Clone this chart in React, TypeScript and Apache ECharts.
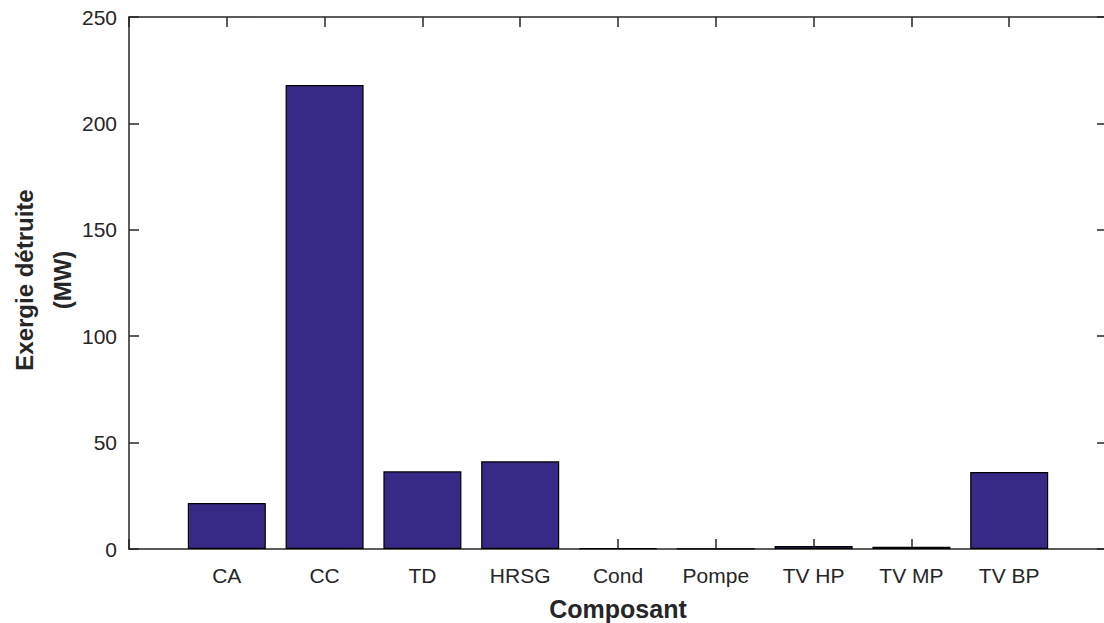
import React, { useEffect, useRef } from "react";
import * as echarts from "echarts";

const categories = ["CA", "CC", "TD", "HRSG", "Cond", "Pompe", "TV HP", "TV MP", "TV BP"];
const values = [21.6, 218.0, 36.5, 41.2, 0.3, 0.05, 1.4, 1.0, 36.2];
const yTicks = [0, 50, 100, 150, 200, 250];

const AXIS = "#262626";
const FONT = "'Liberation Sans', Arial, Helvetica, sans-serif";

export default function App() {
  const ref = useRef<HTMLDivElement>(null);
  useEffect(() => {
    if (!ref.current) return;
    const chart = echarts.init(ref.current, undefined, { renderer: "svg" });
    const yMin = yTicks[0];
    const yMax = yTicks[yTicks.length - 1];
    const yStep = yTicks[1] - yTicks[0];
    const commonX = {
      type: "value" as const,
      min: 0,
      max: categories.length + 1,
      interval: 1,
      splitLine: { show: false },
      axisLine: { show: true, onZero: false, lineStyle: { color: AXIS, width: 1.5 } },
      axisTick: { show: true, inside: true, length: 10, lineStyle: { color: AXIS, width: 1.5 } },
    };
    const commonY = {
      type: "value" as const,
      min: yMin,
      max: yMax,
      interval: yStep,
      splitLine: { show: false },
      axisLine: { show: true, onZero: false, lineStyle: { color: AXIS, width: 1.5 } },
      axisTick: { show: true, inside: true, length: 10, lineStyle: { color: AXIS, width: 1.5 } },
    };
    chart.setOption({
      animation: false,
      backgroundColor: "#ffffff",
      grid: {
        left: 129,
        top: 17,
        width: 978,
        height: 532,
        containLabel: false,
        outerBoundsMode: "none",
      },
      xAxis: [
        {
          ...commonX,
          position: "bottom",
          name: "Composant",
          nameLocation: "middle",
          nameGap: 47,
          nameTextStyle: { fontFamily: FONT, fontSize: 25, fontWeight: "bold", color: AXIS },
          axisLabel: {
            show: true,
            margin: 16,
            fontFamily: FONT,
            fontSize: 21,
            color: AXIS,
            formatter: (v: number) => categories[v - 1] ?? "",
          },
        },
        {
          ...commonX,
          position: "top",
          axisLabel: { show: false },
        },
      ],
      yAxis: [
        {
          ...commonY,
          position: "left",
          axisLabel: { show: true, margin: 12, fontFamily: FONT, fontSize: 21, color: AXIS },
        },
        {
          ...commonY,
          position: "right",
          axisLabel: { show: false },
        },
      ],
      graphic: [
        {
          type: "text",
          x: 43,
          y: 280,
          rotation: Math.PI / 2,
          style: {
            text: "Exergie détruite\n(MW)",
            fontFamily: FONT,
            fontSize: 24,
            fontWeight: "bold",
            fill: AXIS,
            align: "center",
            verticalAlign: "middle",
            lineHeight: 38,
          },
        },
      ],
      series: [
        {
          type: "bar",
          xAxisIndex: 0,
          yAxisIndex: 0,
          barWidth: 78,
          data: values.map((v, i) => [i + 1, v]),
          itemStyle: { color: "#372A87", borderColor: "#000000", borderWidth: 1.2 },
        },
      ],
    });
    return () => chart.dispose();
  }, []);
  return (
    <div
      ref={ref}
      style={{ position: "absolute", left: 0, top: 0, width: 1104, height: 623 }}
    />
  );
}
